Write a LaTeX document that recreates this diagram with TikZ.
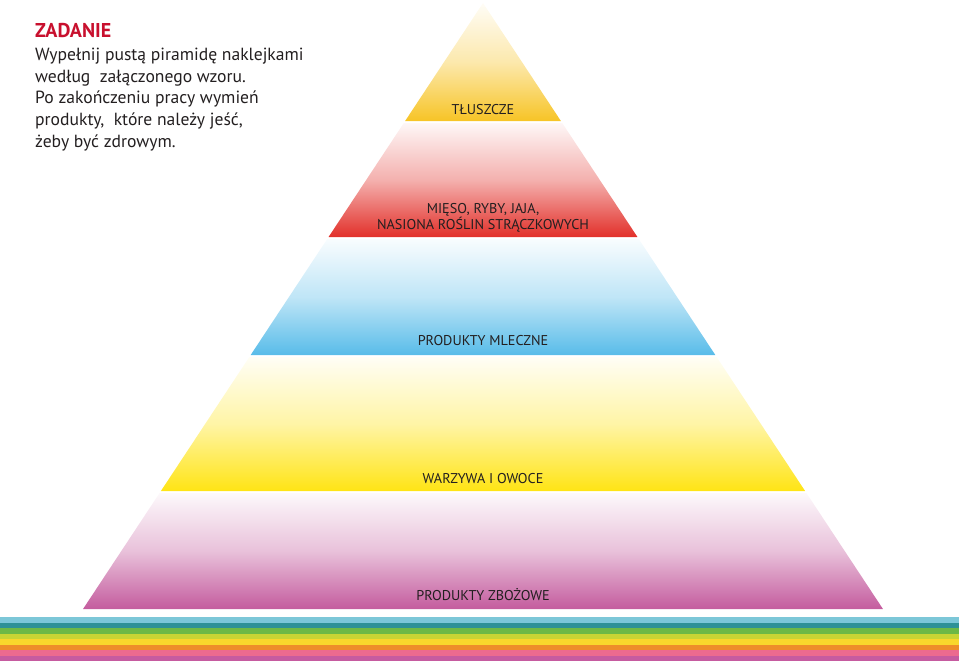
\documentclass[tikz,border=0pt]{standalone}
\usepackage{fontspec}
\setmainfont{PT Sans}
\usepackage{xcolor}
\usepackage{tikz}
\usetikzlibrary{positioning}
\definecolor{inkdark}{RGB}{35, 31, 32}
\definecolor{zadred}{RGB}{200, 16, 46}
\definecolor{fatgold}{RGB}{247, 196, 38}
\definecolor{meatred}{RGB}{226, 48, 42}
\definecolor{milkblue}{RGB}{88, 188, 233}
\definecolor{vegyellow}{RGB}{255, 228, 20}
\definecolor{grainpink}{RGB}{196, 92, 158}
\definecolor{stripeA}{RGB}{124, 199, 216}
\definecolor{stripeB}{RGB}{46, 145, 150}
\definecolor{stripeC}{RGB}{109, 184, 70}
\definecolor{stripeD}{RGB}{200, 212, 52}
\definecolor{stripeE}{RGB}{249, 214, 44}
\definecolor{stripeF}{RGB}{238, 140, 42}
\definecolor{stripeG}{RGB}{236, 106, 143}
\definecolor{stripeH}{RGB}{198, 91, 160}

\begin{document}
\begin{tikzpicture}[x=1pt, y=-1pt,
   lbl/.style={text=inkdark, font=\fontsize{14.2}{16.5}\selectfont, inner sep=0pt, align=center},
   task/.style={text=inkdark, font=\fontsize{17.6}{21.6}\selectfont, inner sep=0pt, align=left}]
  \useasboundingbox (0,0) rectangle (959,661);
  % pyramid bands
  \foreach \ya/\yb/\c in {3/121/fatgold, 123/237/meatred, 239/355/milkblue, 357/491/vegyellow, 493/609/grainpink}
    \shade[top color=\c!4, bottom color=\c, middle color=\c!38]
      ({483-0.66*(\ya-3)},\ya) -- ({483+0.66*(\ya-3)},\ya) -- ({483+0.66*(\yb-3)},\yb) -- ({483-0.66*(\yb-3)},\yb) -- cycle;
  % band labels
  \node[lbl] (fats) at (483,110) {TŁUSZCZE};
  \node[lbl] (meat) at (483,218) {MIĘSO, RYBY, JAJA,\\NASIONA ROŚLIN STRĄCZKOWYCH};
  \node[lbl] (milk) at (483,341) {PRODUKTY MLECZNE};
  \node[lbl] (veg) at (483,479) {WARZYWA I OWOCE};
  \node[lbl] (grain) at (483,595) {PRODUKTY ZBOŻOWE};
  % task text
  \node[anchor=north west, inner sep=0pt, text=zadred, font=\fontsize{20}{22}\selectfont\bfseries] (title) at (35,23) {ZADANIE};
  \node[task, anchor=north west] (text) at (35,48) {Wypełnij pustą piramidę naklejkami\\według~ załączonego wzoru.\\Po zakończeniu pracy wymień\\produkty,~ które należy jeść,\\żeby być zdrowym.};
  % rainbow stripes
  \foreach \c [count=\i from 0] in {stripeA, stripeB, stripeC, stripeD, stripeE, stripeF, stripeG, stripeH}
    \fill[\c] (0,{617+5.5*\i}) rectangle (959,{622.6+5.5*\i});
\end{tikzpicture}
\end{document}
